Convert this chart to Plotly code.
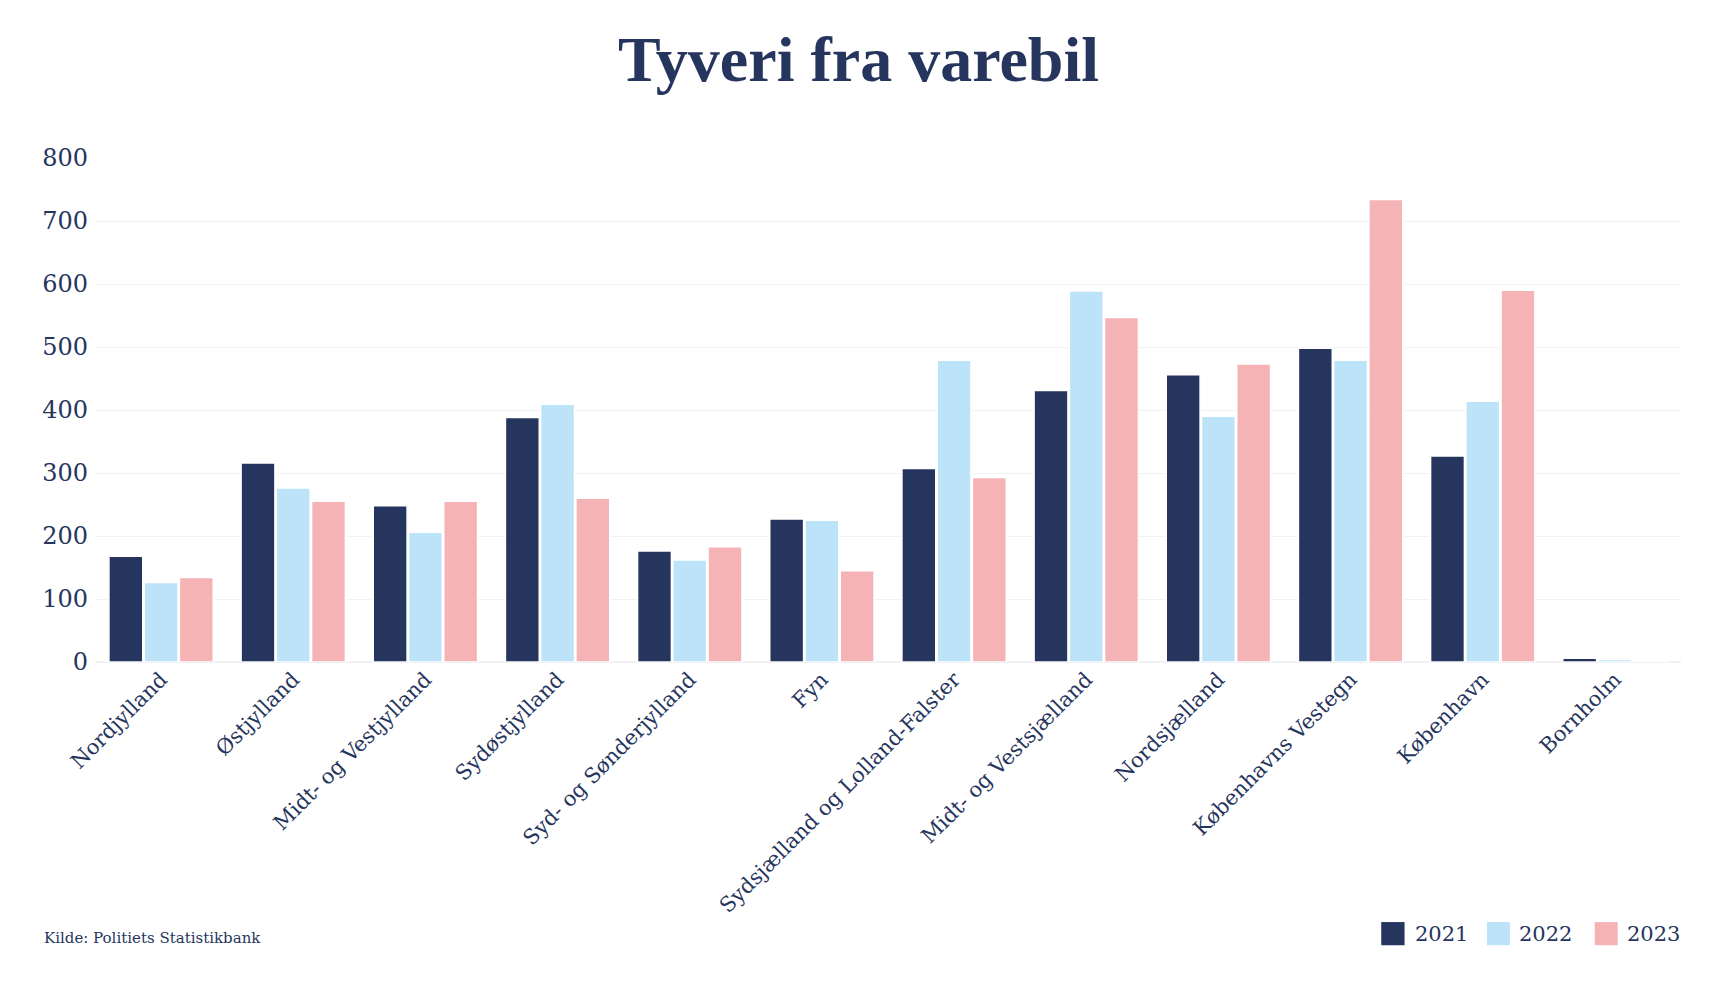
import plotly.graph_objects as go

categories = ["Nordjylland", "Østjylland", "Midt- og Vestjylland", "Sydøstjylland",
              "Syd- og Sønderjylland", "Fyn", "Sydsjælland og Lolland-Falster",
              "Midt- og Vestsjælland", "Nordsjælland", "Københavns Vestegn",
              "København", "Bornholm"]
v2021 = [168, 316, 248, 388, 176, 227, 307, 431, 456, 498, 327, 6]
v2022 = [126, 276, 206, 409, 162, 225, 479, 589, 390, 479, 414, 4]
v2023 = [134, 255, 255, 260, 183, 145, 293, 547, 473, 734, 590, 1]
years = ["2021", "2022", "2023"]
colors = ["#26355D", "#BDE3F8", "#F6B3B5"]

TEXT = "#26355D"
FONT = "DejaVu Serif"

fig = go.Figure()
for name, vals, col in zip(years, [v2021, v2022, v2023], colors):
    fig.add_trace(go.Bar(x=categories, y=vals, name=name,
                         marker=dict(color=col, line=dict(color="white", width=1.5))))

fig.update_layout(
    width=1725, height=987,
    paper_bgcolor="white", plot_bgcolor="white",
    margin=dict(l=87, r=52, t=150, b=333),
    barmode="group", bargap=0.2, bargroupgap=0.04,
    font=dict(family=FONT, color=TEXT),
    title=dict(text="<b>Tyveri fra varebil</b>", x=0.493, xanchor="center",
               y=0.949, yanchor="middle",
               font=dict(family="Liberation Serif", size=64, color=TEXT)),
    xaxis=dict(tickangle=-45, tickfont=dict(size=21, color=TEXT), showgrid=False,
               showline=False, ticks=""),
    yaxis=dict(range=[0, 800], dtick=100, tickfont=dict(size=24, color=TEXT),
               gridcolor="#F1F1F6", gridwidth=1, zeroline=True, zerolinecolor="#F1F1F6",
               ticks="", ticklabelstandoff=6),
    showlegend=False,
)

# custom legend (large square swatches)
leg_sq = [(0.811, 0.8257), (0.8776, 0.8921), (0.9456, 0.9601)]
leg_tx = [0.8311, 0.8963, 0.9650]
for (x0, x1), tx, name, col in zip(leg_sq, leg_tx, years, colors):
    fig.add_shape(type="rect", xref="paper", yref="paper", x0=x0, x1=x1,
                  y0=-0.562, y1=-0.516, fillcolor=col, line=dict(width=0))
    fig.add_annotation(text=name, xref="paper", yref="paper", x=tx, xanchor="left",
                       y=-0.539, yanchor="middle", showarrow=False,
                       font=dict(family=FONT, size=21, color=TEXT))

fig.add_annotation(text="Kilde: Politiets Statistikbank", xref="paper", yref="paper",
                   x=-0.0336, xanchor="left", y=-0.548, yanchor="middle",
                   showarrow=False, font=dict(family=FONT, size=15, color=TEXT))

fig.write_html("out.html")
